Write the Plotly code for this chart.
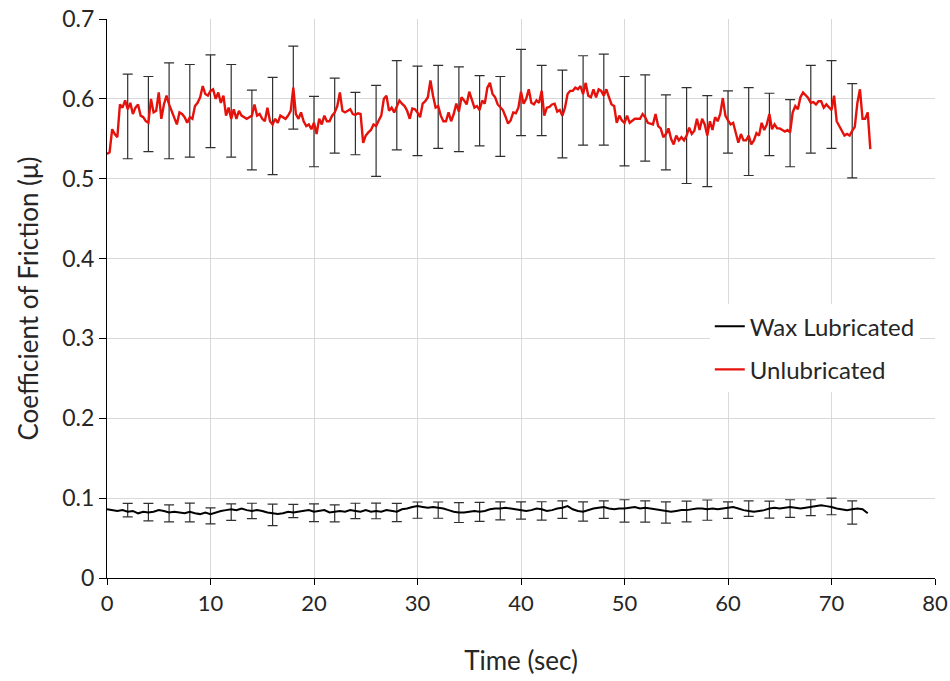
import numpy as np
import plotly.graph_objects as go

# ---------------- data ----------------
DT_RED = 0.25   # sampling interval of the unlubricated trace (s)
DT_WAX = 0.5    # sampling interval of the wax-lubricated trace (s)

unlub_mu = [
    0.531, 0.533, 0.562, 0.556, 0.552, 0.593, 0.589, 0.598,
    0.587, 0.595, 0.581, 0.589, 0.593, 0.579, 0.577, 0.572,
    0.570, 0.600, 0.583, 0.585, 0.608, 0.575, 0.593, 0.604,
    0.593, 0.585, 0.575, 0.568, 0.583, 0.581, 0.577, 0.570,
    0.577, 0.575, 0.591, 0.595, 0.602, 0.616, 0.606, 0.604,
    0.610, 0.612, 0.600, 0.608, 0.595, 0.604, 0.579, 0.589,
    0.575, 0.587, 0.575, 0.585, 0.579, 0.577, 0.575, 0.577,
    0.579, 0.593, 0.579, 0.581, 0.575, 0.572, 0.589, 0.572,
    0.568, 0.575, 0.570, 0.579, 0.577, 0.575, 0.579, 0.585,
    0.614, 0.581, 0.575, 0.583, 0.572, 0.566, 0.568, 0.562,
    0.570, 0.556, 0.575, 0.568, 0.579, 0.572, 0.572, 0.579,
    0.583, 0.591, 0.608, 0.585, 0.583, 0.585, 0.587, 0.581,
    0.580, 0.582, 0.581, 0.545, 0.554, 0.558, 0.561, 0.568,
    0.566, 0.573, 0.579, 0.600, 0.604, 0.585, 0.589, 0.583,
    0.591, 0.598, 0.594, 0.591, 0.585, 0.575, 0.588, 0.587,
    0.583, 0.577, 0.594, 0.597, 0.602, 0.623, 0.604, 0.589,
    0.591, 0.579, 0.572, 0.572, 0.583, 0.572, 0.581, 0.594,
    0.584, 0.602, 0.598, 0.593, 0.609, 0.600, 0.589, 0.591,
    0.586, 0.598, 0.594, 0.614, 0.620, 0.606, 0.602, 0.593,
    0.590, 0.586, 0.578, 0.569, 0.573, 0.583, 0.582, 0.589,
    0.609, 0.594, 0.600, 0.612, 0.595, 0.593, 0.598, 0.595,
    0.610, 0.579, 0.589, 0.590, 0.593, 0.594, 0.584, 0.586,
    0.579, 0.589, 0.606, 0.610, 0.610, 0.614, 0.612, 0.616,
    0.606, 0.620, 0.604, 0.602, 0.612, 0.602, 0.612, 0.610,
    0.604, 0.612, 0.602, 0.593, 0.591, 0.570, 0.579, 0.573,
    0.570, 0.579, 0.570, 0.572, 0.575, 0.575, 0.575, 0.581,
    0.577, 0.570, 0.569, 0.568, 0.581, 0.566, 0.563, 0.552,
    0.556, 0.563, 0.550, 0.543, 0.554, 0.548, 0.552, 0.548,
    0.554, 0.564, 0.556, 0.560, 0.575, 0.561, 0.575, 0.568,
    0.554, 0.572, 0.561, 0.577, 0.572, 0.581, 0.601, 0.579,
    0.573, 0.568, 0.570, 0.557, 0.545, 0.556, 0.548, 0.548,
    0.554, 0.543, 0.548, 0.557, 0.554, 0.570, 0.561, 0.568,
    0.581, 0.562, 0.568, 0.563, 0.563, 0.561, 0.559, 0.561,
    0.558, 0.583, 0.591, 0.587, 0.602, 0.608, 0.604, 0.601,
    0.595, 0.596, 0.593, 0.597, 0.597, 0.589, 0.593, 0.590,
    0.586, 0.604, 0.572, 0.566, 0.560, 0.554, 0.556, 0.554,
    0.560, 0.565, 0.595, 0.612, 0.575, 0.575, 0.583, 0.537,
]

wax_mu = [
    0.086, 0.085, 0.084, 0.085, 0.083, 0.084, 0.081, 0.083, 0.082, 0.083,
    0.085, 0.084, 0.082, 0.083, 0.082, 0.081, 0.083, 0.081, 0.080, 0.082,
    0.080, 0.082, 0.084, 0.085, 0.086, 0.085, 0.087, 0.085, 0.084, 0.085,
    0.084, 0.082, 0.081, 0.080, 0.081, 0.083, 0.082, 0.083, 0.084, 0.085,
    0.083, 0.084, 0.085, 0.082, 0.083, 0.084, 0.083, 0.085, 0.084, 0.083,
    0.085, 0.083, 0.084, 0.083, 0.085, 0.084, 0.083, 0.086, 0.087, 0.089,
    0.090, 0.089, 0.088, 0.089, 0.088, 0.087, 0.085, 0.083, 0.082, 0.082,
    0.083, 0.084, 0.083, 0.084, 0.086, 0.087, 0.087, 0.088, 0.087, 0.086,
    0.085, 0.084, 0.085, 0.087, 0.086, 0.084, 0.085, 0.087, 0.088, 0.090,
    0.086, 0.084, 0.083, 0.085, 0.087, 0.088, 0.089, 0.087, 0.086, 0.087,
    0.087, 0.088, 0.089, 0.087, 0.088, 0.087, 0.086, 0.085, 0.084, 0.083,
    0.084, 0.085, 0.085, 0.086, 0.087, 0.087, 0.086, 0.087, 0.086, 0.087,
    0.088, 0.089, 0.087, 0.085, 0.084, 0.083, 0.084, 0.085, 0.087, 0.088,
    0.087, 0.088, 0.089, 0.088, 0.087, 0.088, 0.089, 0.090, 0.091, 0.090,
    0.089, 0.087, 0.086, 0.085, 0.086, 0.087, 0.086, 0.081,
]

err_time = [2, 4, 6, 8, 10, 12, 14, 16, 18, 20, 22, 24, 26, 28, 30, 32, 34, 36,
            38, 40, 42, 44, 46, 48, 50, 52, 54, 56, 58, 60, 62, 64, 66, 68, 70, 72]

unlub_mean = [0.578, 0.581, 0.585, 0.585, 0.597, 0.585, 0.561, 0.566, 0.614,
              0.559, 0.579, 0.569, 0.560, 0.592, 0.585, 0.590, 0.587, 0.585,
              0.578, 0.608, 0.598, 0.581, 0.598, 0.599, 0.572, 0.576, 0.558,
              0.554, 0.547, 0.571, 0.559, 0.568, 0.557, 0.587, 0.593, 0.560]
unlub_sd = [0.053, 0.047, 0.060, 0.058, 0.058, 0.058, 0.050, 0.061, 0.052,
            0.044, 0.047, 0.039, 0.057, 0.056, 0.056, 0.052, 0.053, 0.044,
            0.050, 0.054, 0.044, 0.055, 0.056, 0.057, 0.056, 0.054, 0.047,
            0.060, 0.057, 0.039, 0.055, 0.039, 0.042, 0.055, 0.055, 0.059]

wax_mean = [0.0850, 0.0825, 0.0810, 0.0820, 0.0777, 0.0825, 0.0840, 0.0790, 0.0840,
            0.0817, 0.0810, 0.0840, 0.0840, 0.0820, 0.0850, 0.0850, 0.0820, 0.0827,
            0.0840, 0.0846, 0.0840, 0.0856, 0.0833, 0.0856, 0.0840, 0.0833, 0.0820,
            0.0833, 0.0850, 0.0850, 0.0869, 0.0856, 0.0870, 0.0880, 0.0896, 0.0820]
wax_sd = [0.0085, 0.0110, 0.0106, 0.0117, 0.0100, 0.0104, 0.0096, 0.0135, 0.0083,
          0.0110, 0.0106, 0.0096, 0.0098, 0.0115, 0.0102, 0.0102, 0.0125, 0.0119,
          0.0113, 0.0108, 0.0115, 0.0110, 0.0120, 0.0110, 0.0140, 0.0133, 0.0133,
          0.0130, 0.0127, 0.0104, 0.0098, 0.0106, 0.0110, 0.0100, 0.0104, 0.0146]

x_ticks = [0, 10, 20, 30, 40, 50, 60, 70, 80]
y_ticks = [0, 0.1, 0.2, 0.3, 0.4, 0.5, 0.6, 0.7]

t_red = np.arange(len(unlub_mu)) * DT_RED
t_wax = np.arange(len(wax_mu)) * DT_WAX

FONT = "Lato"
TXT = "#262626"

fig = go.Figure()

# error bars (drawn first, under the lines)
fig.add_trace(go.Scatter(
    x=err_time, y=wax_mean, mode="markers", marker=dict(size=1, opacity=0),
    error_y=dict(type="data", array=wax_sd, visible=True, color="#303030",
                 thickness=1.2, width=5),
    showlegend=False, hoverinfo="skip"))
fig.add_trace(go.Scatter(
    x=err_time, y=unlub_mean, mode="markers", marker=dict(size=1, opacity=0),
    error_y=dict(type="data", array=unlub_sd, visible=True, color="#303030",
                 thickness=1.2, width=5),
    showlegend=False, hoverinfo="skip"))

fig.add_trace(go.Scatter(
    x=t_wax, y=wax_mu, mode="lines", name="Wax Lubricated",
    line=dict(color="#000000", width=2), legendgroup="a"))
fig.add_trace(go.Scatter(
    x=t_red, y=unlub_mu, mode="lines", name="Unlubricated",
    line=dict(color="#e5120c", width=2.4), legendgroup="b"))

fig.update_layout(
    width=950, height=681,
    margin=dict(l=107, r=15, t=19, b=103),
    paper_bgcolor="white", plot_bgcolor="white",
    font=dict(family=FONT, size=22, color=TXT),
    showlegend=True,
    legend=dict(x=0.728, y=0.49, xanchor="left", yanchor="top",
                bgcolor="rgba(255,255,255,1)", borderwidth=0,
                font=dict(family=FONT, size=24, color=TXT),
                tracegroupgap=9, traceorder="grouped"),
    xaxis=dict(range=[0, 80], tickvals=x_ticks, showgrid=True, gridcolor="#d9d9d9",
               gridwidth=1, zeroline=False, showline=True, linecolor="#000000",
               linewidth=1, ticks="outside", ticklen=6, tickcolor="#000000",
               automargin=False,
               tickfont=dict(family=FONT, size=22, color=TXT),
               title=dict(text="Time (sec)", font=dict(family=FONT, size=26, color=TXT),
                          standoff=36)),
    yaxis=dict(range=[0, 0.7], tickvals=y_ticks, showgrid=True, gridcolor="#d9d9d9",
               gridwidth=1, zeroline=False, showline=True, linecolor="#000000",
               linewidth=1, ticks="outside", ticklen=7, tickcolor="#000000",
               automargin=False,
               tickfont=dict(family=FONT, size=23, color=TXT),
               title=dict(text="Coefficient of Friction (μ)",
                          font=dict(family=FONT, size=26, color=TXT), standoff=16)),
)

fig.write_html("out.html")
